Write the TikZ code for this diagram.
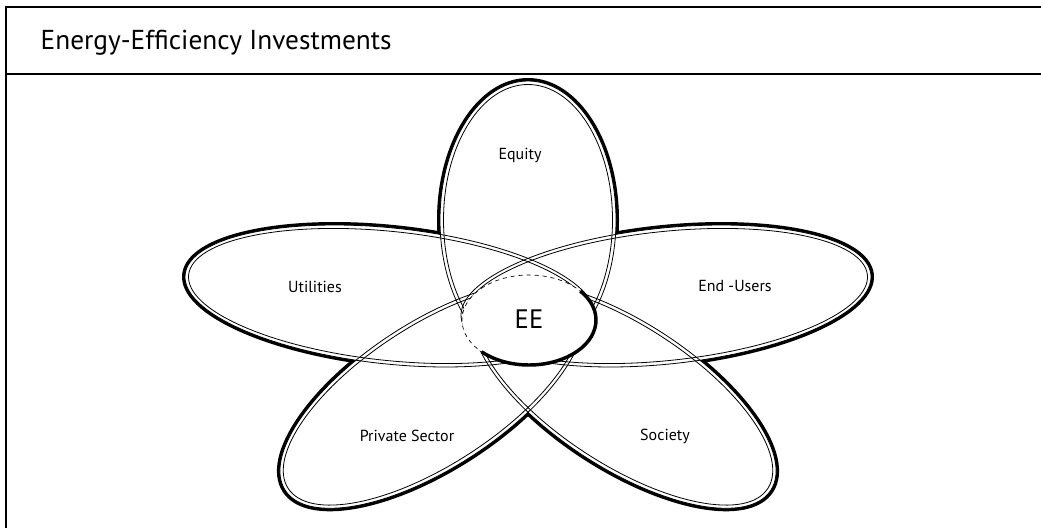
\documentclass[tikz,border=0pt]{standalone}
\usepackage{fontspec}
\setmainfont{PT Sans}
\begin{document}
\begin{tikzpicture}[x=0.75pt,y=-0.75pt,
  petalrim/.style={line width=4.5pt},
  petalline/.style={line width=0.6pt},
  petaltext/.style={font=\fontsize{12}{14}\selectfont},
  eering/.style={dashed,line width=0.5pt},
  eeshade/.style={line width=2.6pt}]
\useasboundingbox (0,0) rectangle (1041,528);
% frame and title
\draw[line width=1.5pt] (6,528)--(6,7)--(1041,7) (6,74)--(1041,74);
\node[anchor=base west,font=\fontsize{20.5}{23}\selectfont] (title) at (36,50) {Energy-Efficiency Investments};
% petals: centre x/centre y/x radius/y radius/angle
\def\petals{528/220/88/139/0, 390/296/206/68/-6, 666/296/206/68/6, 432/395/175/73/33, 624/395/175/73/-33}
\foreach \cx/\cy/\rx/\ry/\a in \petals
  \draw[petalrim] (\cx,\cy) circle[x radius=\rx, y radius=\ry, rotate=\a];
\foreach \cx/\cy/\rx/\ry/\a in \petals
  \fill[white] (\cx,\cy) circle[x radius=\rx, y radius=\ry, rotate=\a];
\foreach \cx/\cy/\rx/\ry/\a in \petals {
  \draw[petalline] (\cx,\cy) circle[x radius=\rx, y radius=\ry, rotate=\a];
  \draw[petalline] (\cx,\cy) circle[x radius=\rx-3.5, y radius=\ry-3.5, rotate=\a];
}
% centre
\fill[white] (529,320) ellipse[x radius=67, y radius=45];
\draw[eering] (529,320) ellipse[x radius=67, y radius=45];
\draw[eeshade] (529,320) ++(-40:67 and 45) arc[start angle=-40, end angle=135, x radius=67, y radius=45];
\node[font=\fontsize{20}{22}\selectfont] (ee) at (529,319) {EE};
% labels
\node[petaltext] (equity) at (520,155) {Equity};
\node[petaltext] (utilities) at (315,287) {Utilities};
\node[petaltext] (endusers) at (735,286) {End -Users};
\node[petaltext] (private) at (407,436) {Private Sector};
\node[petaltext] (society) at (665,436) {Society};
\end{tikzpicture}
\end{document}
